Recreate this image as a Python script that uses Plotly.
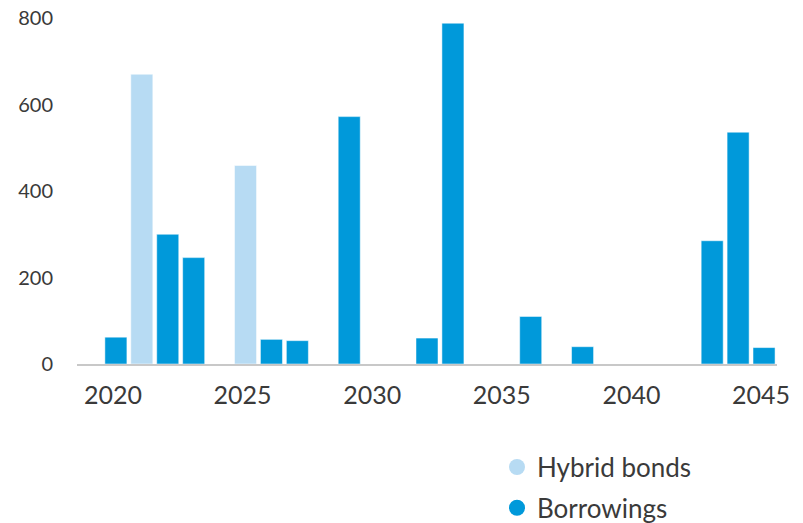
import plotly.graph_objects as go

hybrid_years = [2021, 2025]
hybrid_values = [670, 459]

borrow_years = [2020, 2022, 2023, 2026, 2027, 2029, 2032, 2033, 2036, 2038, 2043, 2044, 2045]
borrow_values = [62, 300, 246, 57, 54, 572, 60, 788, 110, 40, 285, 536, 38]

x_ticks = [2020, 2025, 2030, 2035, 2040, 2045]
y_ticks = [0, 200, 400, 600, 800]

HYB = "#B7DBF3"
BOR = "#0099DA"
FONT = "Lato, 'Open Sans', sans-serif"
TXT = "#3a3a3a"

fig = go.Figure()
fig.add_trace(go.Bar(x=hybrid_years, y=hybrid_values, width=0.85, name="Hybrid bonds",
                     marker=dict(color=HYB, line=dict(color="rgba(255,255,255,0.5)", width=1)),
                     showlegend=False))
fig.add_trace(go.Bar(x=borrow_years, y=borrow_values, width=0.85, name="Borrowings",
                     marker=dict(color=BOR, line=dict(color="rgba(255,255,255,0.5)", width=1)),
                     showlegend=False))
# legend entries with circle symbols
fig.add_trace(go.Scatter(x=[None], y=[None], mode="markers", name="Hybrid bonds",
                         legendgroup="h", marker=dict(color=HYB, size=20, symbol="circle")))
fig.add_trace(go.Scatter(x=[None], y=[None], mode="markers", name="Borrowings",
                         legendgroup="b", marker=dict(color=BOR, size=20, symbol="circle")))

fig.update_layout(
    width=803, height=523,
    margin=dict(l=77, r=26, t=18, b=159, autoexpand=False),
    paper_bgcolor="white", plot_bgcolor="white",
    barmode="overlay",
    font=dict(family=FONT, color=TXT),
    legend=dict(x=0.6, y=-0.23, xanchor="left", yanchor="top",
                font=dict(size=26, color=TXT, family=FONT),
                traceorder="grouped", itemsizing="trace", tracegroupgap=4,
                bgcolor="rgba(0,0,0,0)"),
    xaxis=dict(range=[2018.5, 2045.5], tickvals=x_ticks, ticktext=[str(v) for v in x_ticks],
               showgrid=False, zeroline=False, showline=True, linecolor="#c8c8c8", linewidth=1.5,
               ticks="", tickfont=dict(size=25, color=TXT), ticklabelstandoff=8, ticklabelshift=-3,
               fixedrange=True),
    yaxis=dict(range=[0, 800], tickvals=y_ticks, showgrid=False, zeroline=False, showline=False,
               ticks="", tickfont=dict(size=20, color=TXT), ticklabelstandoff=23, fixedrange=True),
)

fig.write_html("out.html")
